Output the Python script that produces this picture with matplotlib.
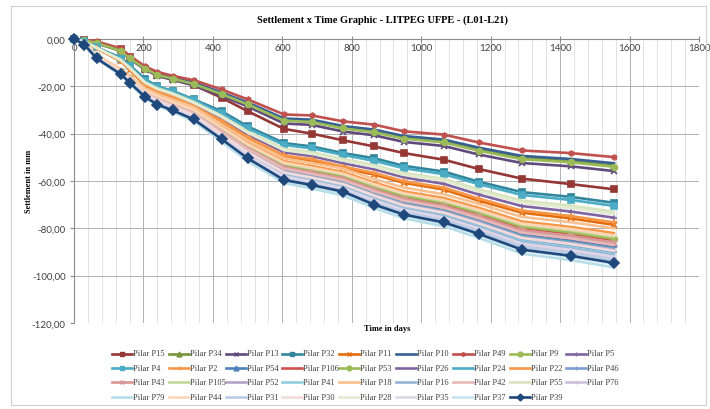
import matplotlib
matplotlib.use("Agg")
import matplotlib.pyplot as plt
from matplotlib.lines import Line2D
from matplotlib.patches import Rectangle
from matplotlib.ticker import MultipleLocator, FuncFormatter


# Days of each reading (shared by every pile)
days = [0, 30, 65, 135, 160, 205, 240, 285, 345, 425, 500, 605, 685, 775, 865, 950, 1065, 1165, 1290, 1430, 1555]

# Settlement in mm, one list per pile
p15 = [0, -0.5, -1.5, -4.3, -7.8, -12.5, -15.0, -17.0, -19.5, -24.8, -30.5, -38.0, -40.0, -42.8, -45.4, -48.2, -51.0, -54.9, -59.0, -61.3, -63.5]
p34 = [0, -0.5, -1.6, -4.8, -8.0, -12.3, -15.0, -16.6, -18.7, -23.0, -27.3, -34.2, -34.8, -37.5, -39.1, -41.7, -43.3, -46.8, -50.3, -51.6, -53.5]
p13 = [0, -0.6, -1.8, -5.1, -8.4, -12.9, -15.6, -17.3, -19.6, -24.0, -28.5, -35.7, -36.3, -39.1, -40.7, -43.5, -45.2, -48.8, -52.4, -53.8, -55.8]
p32 = [0, -1.0, -3.5, -8.0, -11.0, -17.0, -20.0, -22.0, -25.5, -30.5, -36.9, -44.0, -45.4, -48.2, -50.4, -53.6, -56.0, -60.3, -64.7, -66.7, -69.2]
p11 = [0, -1.2, -3.9, -9.4, -13.0, -19.6, -22.4, -24.7, -28.7, -34.9, -42.0, -49.8, -51.4, -54.6, -57.3, -60.8, -63.6, -68.3, -73.4, -75.8, -78.5]
p10 = [0, -0.5, -1.6, -4.7, -7.9, -12.1, -14.7, -16.3, -18.4, -22.6, -26.8, -33.6, -34.1, -36.8, -38.3, -41.0, -42.5, -45.9, -49.4, -50.7, -52.5]
p49 = [0, -0.3, -1.0, -4.0, -7.0, -11.6, -13.9, -15.6, -17.4, -21.3, -25.5, -31.9, -32.3, -34.8, -36.2, -39.0, -40.4, -43.7, -47.1, -48.2, -49.9]
p9 = [0, -0.6, -1.7, -5.0, -8.2, -12.5, -15.2, -16.8, -19.0, -23.3, -27.6, -34.5, -35.1, -37.8, -39.4, -42.1, -43.7, -47.2, -50.8, -52.1, -54.0]
p5 = [0, -1.1, -3.8, -9.1, -12.5, -18.9, -21.5, -23.8, -27.6, -33.6, -40.4, -47.9, -49.5, -52.5, -55.1, -58.5, -61.2, -65.7, -70.6, -72.9, -75.5]
p4 = [0, -1.1, -3.5, -8.5, -11.6, -17.6, -20.1, -22.2, -25.7, -31.4, -37.7, -44.8, -46.2, -49.0, -51.5, -54.6, -57.1, -61.3, -65.9, -68.0, -70.5]
p2 = [0, -1.2, -3.9, -9.3, -12.8, -19.4, -22.1, -24.4, -28.3, -34.5, -41.5, -49.2, -50.8, -53.9, -56.6, -60.1, -62.8, -67.4, -72.5, -74.8, -77.5]
p54 = [0, -2.2, -7.4, -13.8, -16.9, -22.5, -25.1, -27.7, -31.1, -38.9, -46.3, -54.5, -56.7, -59.3, -64.0, -67.9, -70.9, -75.3, -81.3, -83.7, -86.5]
p106 = [0, -2.1, -7.2, -13.6, -16.6, -22.1, -24.7, -27.2, -30.6, -38.3, -45.5, -53.6, -55.7, -58.2, -62.9, -66.7, -69.7, -74.0, -79.9, -82.3, -85.0]
p53 = [0, -2.1, -7.2, -13.5, -16.5, -21.9, -24.5, -27.0, -30.4, -38.0, -45.2, -53.2, -55.3, -57.8, -62.5, -66.3, -69.2, -73.4, -79.3, -81.7, -84.4]
p26 = [0, -2.2, -7.5, -14.1, -17.2, -22.9, -25.5, -28.2, -31.7, -39.6, -47.1, -55.4, -57.6, -60.3, -65.1, -69.1, -72.2, -76.6, -82.7, -85.2, -88.0]
p24 = [0, -2.2, -7.5, -14.2, -17.3, -23.0, -25.7, -28.3, -31.9, -39.8, -47.3, -55.8, -58.0, -60.6, -65.5, -69.5, -72.6, -77.0, -83.2, -85.7, -88.5]
p22 = [0, -2.1, -7.0, -13.1, -16.0, -21.3, -23.8, -26.2, -29.5, -36.9, -43.9, -51.7, -53.7, -56.2, -60.7, -64.4, -67.2, -71.3, -77.1, -79.4, -82.0]
p46 = [0, -2.3, -7.7, -14.4, -17.6, -23.4, -26.1, -28.8, -32.4, -40.5, -48.2, -56.7, -59.0, -61.7, -66.6, -70.7, -73.8, -78.3, -84.6, -87.1, -90.0]
p43 = [0, -2.2, -7.3, -13.8, -16.8, -22.4, -24.9, -27.5, -31.0, -38.7, -46.0, -54.2, -56.3, -58.9, -63.6, -67.5, -70.5, -74.8, -80.8, -83.2, -86.0]
p105 = [0, -2.1, -7.1, -13.4, -16.3, -21.7, -24.2, -26.7, -30.1, -37.6, -44.7, -52.6, -54.7, -57.2, -61.8, -65.5, -68.5, -72.6, -78.5, -80.8, -83.5]
p52 = [0, -2.2, -7.6, -14.2, -17.4, -23.1, -25.8, -28.5, -32.0, -40.1, -47.6, -56.1, -58.3, -61.0, -65.9, -69.9, -73.0, -77.4, -83.7, -86.2, -89.0]
p41 = [0, -2.3, -7.7, -14.6, -17.7, -23.7, -26.4, -29.1, -32.8, -41.0, -48.7, -57.3, -59.6, -62.3, -67.3, -71.4, -74.6, -79.2, -85.5, -88.1, -91.0]
p18 = [0, -2.0, -6.8, -12.8, -15.6, -20.8, -23.2, -25.6, -28.8, -36.0, -42.8, -50.4, -52.4, -54.8, -59.2, -62.8, -65.6, -69.6, -75.2, -77.4, -80.0]
p16 = [0, -2.3, -7.8, -14.6, -17.8, -23.8, -26.5, -29.3, -32.9, -41.2, -49.0, -57.6, -59.9, -62.7, -67.7, -71.8, -75.0, -79.6, -86.0, -88.6, -91.5]
p42 = [0, -2.2, -7.4, -13.9, -17.0, -22.6, -25.2, -27.8, -31.3, -39.2, -46.5, -54.8, -57.0, -59.6, -64.4, -68.3, -71.3, -75.7, -81.8, -84.2, -87.0]
p55 = [0, -1.1, -3.7, -8.8, -12.0, -18.3, -20.8, -23.0, -26.6, -32.5, -39.1, -46.4, -47.8, -50.7, -53.3, -56.6, -59.1, -63.5, -68.3, -70.4, -73.0]
p76 = [0, -2.3, -7.9, -14.8, -18.0, -24.1, -26.8, -29.6, -33.3, -41.6, -49.5, -58.3, -60.6, -63.4, -68.5, -72.6, -75.9, -80.5, -87.0, -89.5, -92.5]
p79 = [0, -2.4, -8.2, -15.4, -18.8, -25.1, -28.0, -30.9, -34.7, -43.4, -51.6, -60.8, -63.2, -66.1, -71.4, -75.8, -79.1, -84.0, -90.7, -93.4, -96.5]
p44 = [0, -2.1, -7.1, -13.3, -16.2, -21.6, -24.1, -26.6, -29.9, -37.4, -44.4, -52.3, -54.4, -56.9, -61.4, -65.2, -68.1, -72.2, -78.0, -80.3, -83.0]
p31 = [0, -2.3, -7.9, -15.0, -18.2, -24.3, -27.1, -29.9, -33.7, -42.1, -50.0, -58.9, -61.2, -64.0, -69.2, -73.4, -76.7, -81.3, -87.9, -90.5, -93.5]
p30 = [0, -2.2, -7.6, -14.3, -17.5, -23.3, -26.0, -28.6, -32.2, -40.3, -47.9, -56.4, -58.6, -61.3, -66.2, -70.3, -73.4, -77.9, -84.1, -86.6, -89.5]
p28 = [0, -1.1, -3.7, -8.9, -12.2, -18.5, -21.1, -23.3, -27.0, -32.9, -39.6, -47.0, -48.5, -51.4, -54.0, -57.4, -59.9, -64.4, -69.2, -71.4, -74.0]
p35 = [0, -2.3, -7.8, -14.7, -17.9, -23.9, -26.7, -29.4, -33.1, -41.4, -49.2, -58.0, -60.3, -63.0, -68.1, -72.2, -75.4, -80.0, -86.5, -89.1, -92.0]
p37 = [0, -2.4, -8.1, -15.2, -18.5, -24.7, -27.6, -30.4, -34.2, -42.8, -50.8, -59.9, -62.2, -65.1, -70.3, -74.6, -77.9, -82.7, -89.3, -92.0, -95.0]
p39 = [0, -2.4, -8.2, -14.9, -18.4, -24.5, -27.7, -30.2, -34.0, -42.3, -50.4, -59.6, -61.7, -64.5, -70.0, -74.2, -77.5, -82.3, -89.0, -91.6, -94.6]

# Series in legend order (row by row, as in the reference)
series = {
    "Pilar P15": p15, "Pilar P34": p34, "Pilar P13": p13, "Pilar P32": p32, "Pilar P11": p11,
    "Pilar P10": p10, "Pilar P49": p49, "Pilar P9": p9, "Pilar P5": p5,
    "Pilar P4": p4, "Pilar P2": p2, "Pilar P54": p54, "Pilar P106": p106, "Pilar P53": p53,
    "Pilar P26": p26, "Pilar P24": p24, "Pilar P22": p22, "Pilar P46": p46,
    "Pilar P43": p43, "Pilar P105": p105, "Pilar P52": p52, "Pilar P41": p41, "Pilar P18": p18,
    "Pilar P16": p16, "Pilar P42": p42, "Pilar P55": p55, "Pilar P76": p76,
    "Pilar P79": p79, "Pilar P44": p44, "Pilar P31": p31, "Pilar P30": p30, "Pilar P28": p28,
    "Pilar P35": p35, "Pilar P37": p37, "Pilar P39": p39,
}

# Style (Excel 2010 palette shades)
colors = [
    "#953735", "#77933C", "#604A7B", "#31859C", "#E46C0A", "#376092", "#C0504D", "#9BBB59", "#8064A2",
    "#4BACC6", "#F79646", "#4F81BD", "#D0504D", "#9BBB59", "#8064A2", "#4BACC6", "#F79646", "#7F9FD0",
    "#D99694", "#C3D69B", "#B3A2C7", "#93CDDD", "#FAC090", "#95B3D7", "#E6B9B8", "#D7E4BD", "#CCC1DA",
    "#B7DEE8", "#FCD5B5", "#B9CDE5", "#F2DCDB", "#E3EBD2", "#DDD6E8", "#C6E4EE", "#1F497D",
]
markers = {
    "Pilar P15": "s", "Pilar P34": "^", "Pilar P13": "x", "Pilar P32": "s", "Pilar P11": "x",
    "Pilar P49": (6, 2, 0), "Pilar P9": "o", "Pilar P5": "+", "Pilar P4": "s", "Pilar P2": "+",
    "Pilar P54": "^", "Pilar P53": "o", "Pilar P46": "+", "Pilar P43": "x", "Pilar P76": "+",
    "Pilar P39": "D",
}

W, H = 710, 410


def fx(x):
    return x / W


def fy(y):
    return 1 - y / H


def comma_fmt(v, _pos):
    if abs(v) < 1e-9:
        v = 0.0
    return f"{v:.2f}".replace(".", ",")


fig = plt.figure(figsize=(7.1, 4.1), dpi=100)
fig.patch.set_facecolor("white")
fig.patches.append(Rectangle((fx(11), fy(406)), fx(706) - fx(11), fy(7) - fy(406),
                             transform=fig.transFigure, fill=False, ec="#D0D0D0", lw=0.8))

ax = fig.add_axes([fx(74), fy(324), fx(699) - fx(74), fy(40) - fy(324)])
ax.set_xlim(0, 1800)
ax.set_ylim(-120, 0)

for (name, vals), col in zip(series.items(), colors):
    mk = markers.get(name, None)
    ms = 4.8 if mk in ("s", "D") else 4.2
    ax.plot(days, vals, color=col, lw=1.9, marker=mk, ms=ms, mew=1.2,
            mfc=col, mec=col, zorder=3, clip_on=False)

# axes and grid
ax.xaxis.set_major_locator(MultipleLocator(200))
ax.xaxis.set_minor_locator(MultipleLocator(40))
ax.yaxis.set_major_locator(MultipleLocator(20))
ax.yaxis.set_major_formatter(FuncFormatter(comma_fmt))
ax.grid(True, which="major", axis="both", color="#B0B0B0", lw=0.7, zorder=0)
ax.grid(True, which="minor", axis="x", color="#DCDCDC", lw=0.6, zorder=0)
ax.set_axisbelow(True)

for side in ("bottom", "right"):
    ax.spines[side].set_visible(False)
ax.spines["left"].set_color("#8C8C8C")
ax.spines["top"].set_color("#8C8C8C")

ax.xaxis.tick_top()
ax.tick_params(axis="x", which="major", top=True, bottom=False, labeltop=True, labelbottom=False,
               pad=-11.5, length=4, direction="inout", color="#8C8C8C",
               labelsize=7, labelcolor="#404040")
ax.tick_params(axis="x", which="minor", top=False, bottom=False)
ax.tick_params(axis="y", length=3, color="#8C8C8C", labelsize=7, labelcolor="#404040", pad=3)
for lab in ax.get_xticklabels() + ax.get_yticklabels():
    lab.set_fontfamily("Lato")

fig.text(fx(383), fy(20), "Settlement x Time Graphic - LITPEG UFPE - (L01-L21)",
         ha="center", va="center", fontsize=7.5, fontweight="bold", family="Liberation Serif")
fig.text(fx(387), fy(329), "Time in days", ha="center", va="center",
         fontsize=6, fontweight="bold", family="Liberation Serif")
fig.text(fx(29), fy(181), "Settlement in mm", ha="center", va="center", rotation=90,
         fontsize=6, fontweight="bold", family="Liberation Serif")

# legend drawn row by row like the Excel one
for i, ((name, _vals), col) in enumerate(zip(series.items(), colors)):
    row, c = divmod(i, 9)
    x0 = 112 + c * 56.8
    y0 = 354.5 + row * 14.4
    fig.add_artist(Line2D([fx(x0), fx(x0 + 20)], [fy(y0), fy(y0)], transform=fig.transFigure,
                          color=col, lw=1.9))
    mk = markers.get(name, None)
    if mk is not None:
        fig.add_artist(Line2D([fx(x0 + 10)], [fy(y0)], transform=fig.transFigure, color=col,
                              marker=mk, ms=3.5, mew=1.0, mfc=col, mec=col, lw=0))
    fig.text(fx(x0 + 21), fy(y0), name, ha="left", va="center", fontsize=6,
             family="Liberation Serif", color="#404040")

fig.savefig("out.png", dpi=100)
